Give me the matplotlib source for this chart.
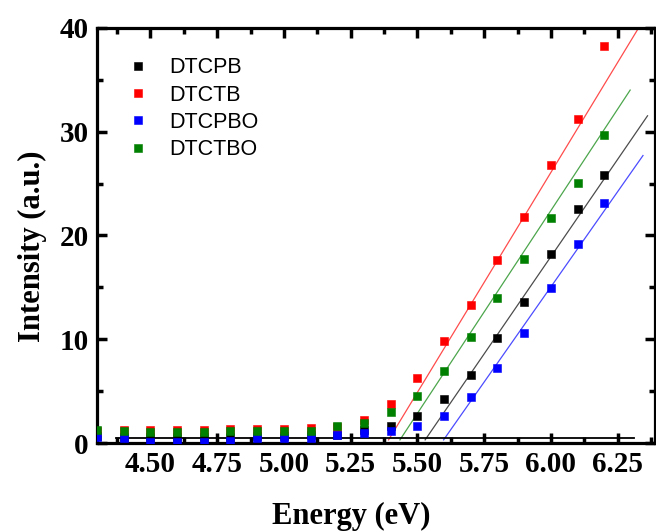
import matplotlib
matplotlib.use("Agg")
import matplotlib.pyplot as plt
from matplotlib.ticker import MultipleLocator
import numpy as np

# photon energy (eV) and intensity of each sample
energy = [4.3, 4.4, 4.5, 4.6, 4.7, 4.8, 4.9, 5.0, 5.1, 5.2,
          5.3, 5.4, 5.5, 5.6, 5.7, 5.8, 5.9, 6.0, 6.1, 6.2]
dtcpb = [0.7, 0.6, 0.55, 0.55, 0.55, 0.6, 0.7, 0.7, 0.75, 0.8,
         1.3, 1.65, 2.6, 4.2, 6.6, 10.1, 13.6, 18.2, 22.6, 25.8]
dtctb = [1.2, 1.28, 1.28, 1.28, 1.28, 1.35, 1.35, 1.38, 1.44, 1.5,
         2.2, 3.8, 6.3, 9.8, 13.3, 17.6, 21.8, 26.8, 31.2, 38.3]
dtcpbo = [0.55, 0.45, 0.1, 0.1, 0.1, 0.2, 0.45, 0.45, 0.45, 0.75,
          0.95, 1.15, 1.6, 2.6, 4.45, 7.2, 10.6, 14.9, 19.2, 23.1]
dtctbo = [1.25, 1.12, 1.05, 1.08, 1.1, 1.15, 1.18, 1.18, 1.2, 1.6,
          1.9, 3.0, 4.55, 6.9, 10.2, 14.0, 17.7, 21.7, 25.1, 29.7]

labels = ["DTCPB", "DTCTB", "DTCPBO", "DTCTBO"]
colors = ["#000000", "#ff0000", "#0000ff", "#008000"]

# linear fits of the rising edge: onset (eV), slope (a.u./eV), end (eV)
fit_onset = [5.521, 5.385, 5.590, 5.427]
fit_slope = [37.5, 42.4, 36.7, 39.1]
fit_end = [6.362, 6.35, 6.345, 6.297]

# baseline fit below threshold
base_x = [4.37, 6.31]
base_y = [0.45, 0.45]

plt.rcParams["font.family"] = ["Liberation Serif", "DejaVu Serif"]
plt.rcParams["font.weight"] = "bold"

fig = plt.figure(figsize=(6.56, 5.31), dpi=100)
ax = fig.add_axes([97 / 656, 88 / 531, 558 / 656, 415 / 531])

series = [dtcpb, dtctb, dtcpbo, dtctbo]
for vals, lab, col in zip(series, labels, colors):
    ax.plot(energy, vals, "s", color=col, markersize=6.3,
            markeredgewidth=0.4, markeredgecolor=col, label=lab, zorder=3)

for x0, k, x1, col in zip(fit_onset, fit_slope, fit_end, colors):
    xs = np.array([x0 + 0.3 / k, x1])
    ax.plot(xs, k * (xs - x0), "-", color=col, lw=0.9, alpha=0.7, zorder=2)

ax.plot(base_x, base_y, "-", color="black", lw=1.3, zorder=2)

ax.set_xlim(4.3, 6.39)
ax.set_ylim(0, 40)
ax.xaxis.set_major_locator(MultipleLocator(0.25))
ax.xaxis.set_minor_locator(MultipleLocator(0.125))
ax.yaxis.set_major_locator(MultipleLocator(10))
ax.yaxis.set_minor_locator(MultipleLocator(5))
ax.xaxis.set_major_formatter(matplotlib.ticker.FormatStrFormatter("%.2f"))

for s in ax.spines.values():
    s.set_linewidth(2.3)
ax.tick_params(which="both", direction="in", top=True, right=True,
               width=2.5, labelsize=21, pad=6)
ax.tick_params(which="major", length=7)
ax.tick_params(which="minor", length=4.5)
ax.set_xticks(np.arange(4.5, 6.26, 0.25))

ax.set_xlabel("Energy (eV)", fontsize=22, fontweight="bold")
ax.set_ylabel("Intensity (a.u.)", fontsize=22, fontweight="bold")
ax.xaxis.set_label_coords(0.456, -0.142)
ax.yaxis.set_label_coords(-0.09, 0.475)

leg = ax.legend(loc="upper left", bbox_to_anchor=(0.055, 0.93),
                frameon=False, handlelength=1.0, handletextpad=0.95,
                borderpad=0, borderaxespad=0, labelspacing=0.3,
                prop={"family": "Liberation Sans", "size": 15.5,
                      "weight": "normal"})

fig.savefig("out.png", dpi=100)
